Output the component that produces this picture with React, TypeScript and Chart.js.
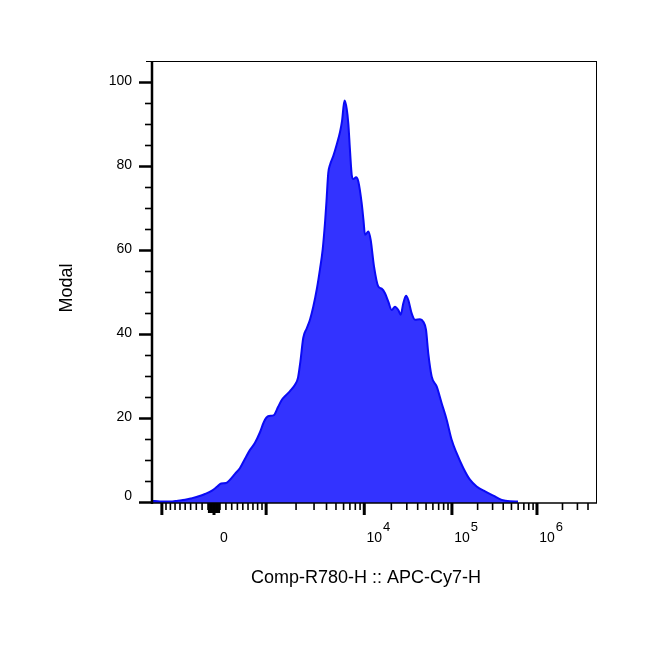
import { useEffect, useRef } from 'react'
import Chart from 'chart.js/auto'
import type { ChartConfiguration, Plugin } from 'chart.js'

// bin centres on the biexponential display scale (decades away from zero)
const BIN_POSITIONS = [
  -0.732, -0.638, -0.519, -0.425, -0.342, -0.26, -0.189, -0.106, -0.024, 0.035,
  0.083, 0.142, 0.189, 0.248, 0.307, 0.366, 0.425, 0.484, 0.543, 0.59,
  0.638, 0.708, 0.756, 0.803, 0.85, 0.897, 0.956, 0.992, 1.021, 1.054,
  1.094, 1.133, 1.172, 1.213, 1.251, 1.283, 1.311, 1.328, 1.349, 1.37,
  1.409, 1.449, 1.488, 1.511, 1.541, 1.567, 1.586, 1.606, 1.626, 1.645,
  1.677, 1.704, 1.744, 1.765, 1.783, 1.822, 1.85, 1.889, 1.94, 1.98,
  2.019, 2.058, 2.098, 2.137, 2.176, 2.204, 2.235, 2.267, 2.294, 2.334,
  2.373, 2.432, 2.471, 2.503, 2.53, 2.57, 2.629, 2.688, 2.747, 2.806,
  2.865, 2.943, 3.022, 3.101, 3.2, 3.298, 3.397, 3.495, 3.589,
]

// % of max per bin
const MODAL_VALUES = [
  0.2, 0, 0, 0.2, 0.4, 0.8, 1.2, 1.8, 2.6, 3.5,
  4.3, 4.4, 5.2, 6.6, 8, 10.2, 12.3, 14, 16.5, 19,
  20.3, 20.6, 22.5, 24.3, 25.3, 26.3, 27.8, 29.5, 33.5, 39,
  41.2, 43.3, 46.4, 50.5, 55.3, 60, 66.5, 71.5, 78.2, 80.2,
  82.3, 85, 88, 90.5, 95.5, 93.5, 90, 83.5, 77.8, 76.8,
  77.2, 76.2, 71, 67, 63.5, 64.3, 62.3, 56, 51.2, 50.7,
  49.6, 47.6, 45.6, 46.4, 45.6, 44.5, 47.2, 49, 48, 44.8,
  43.3, 43.4, 42.8, 40.9, 35.3, 29.8, 27.4, 23.4, 19.5, 14.7,
  11.5, 8, 5.2, 3.6, 2.4, 1.4, 0.4, 0.05, 0,
]

const Y_TICKS = [0, 5, 10, 15, 20, 25, 30, 35, 40, 45, 50, 55, 60, 65, 70, 75, 80, 85, 90, 95, 100]
const Y_LABELS = [0, 20, 40, 60, 80, 100]

const X_MAJOR_TICKS = [-1000, 0, 1000, 10000, 100000, 1000000]
const X_MINOR_BASES = [10, 100, 1000, 10000, 100000, 1000000]
const X_TICK_MAX = 4000000
const X_LABEL_VALUES = [0, 10000, 100000, 1000000]
const X_LABEL_BASES = ['0', '10', '10', '10']
const X_LABEL_EXPONENTS = ['', '4', '5', '6']

const X_TITLE = 'Comp-R780-H :: APC-Cy7-H'
const Y_TITLE = 'Modal'

const BIEX_C = 153.5
const BIEX_P = 3

const FONT = 'Arial, "Liberation Sans", sans-serif'

// logicle-style transform: data value -> display decades from zero
const biexDisplay = (v: number) => {
  const s = Math.abs(v)
  if (s === 0) return 0
  const p2 = BIEX_P * BIEX_P
  const f = (y: number) => BIEX_C * (Math.pow(10, y) - p2 * Math.pow(10, -y / BIEX_P) + p2 - 1)
  let lo = 0
  let hi = 8
  for (let i = 0; i < 60; i++) {
    const mid = (lo + hi) / 2
    if (f(mid) < s) lo = mid
    else hi = mid
  }
  return Math.sign(v) * (lo + hi) / 2
}

const minorTicks = () => {
  const out: number[] = []
  X_MINOR_BASES.forEach((b) => {
    for (let m = 1; m <= 9; m++) {
      const v = m * b
      if (v > X_TICK_MAX || X_MAJOR_TICKS.includes(v)) continue
      out.push(v)
      if (v < 1000) out.push(-v)
    }
  })
  return out
}

const axesPlugin: Plugin<'line'> = {
  id: 'flowAxes',
  afterDraw(chart) {
    const { ctx, chartArea } = chart
    const xs = chart.scales.x
    const ys = chart.scales.y
    const { left, right, top, bottom } = chartArea
    ctx.save()
    ctx.strokeStyle = '#000'
    ctx.fillStyle = '#000'

    // frame
    ctx.lineWidth = 1
    ctx.beginPath()
    ctx.moveTo(left - 6, top + 0.5)
    ctx.lineTo(right, top + 0.5)
    ctx.moveTo(right - 0.5, top)
    ctx.lineTo(right - 0.5, bottom)
    ctx.stroke()
    ctx.lineWidth = 1.5
    ctx.beginPath()
    ctx.moveTo(left, bottom)
    ctx.lineTo(right, bottom)
    ctx.stroke()
    ctx.lineWidth = 2.5
    ctx.beginPath()
    ctx.moveTo(left, top)
    ctx.lineTo(left, bottom + 1)
    ctx.stroke()

    // y ticks
    Y_TICKS.forEach((v) => {
      const py = Math.round(ys.getPixelForValue(v)) + 0.5
      const major = Y_LABELS.includes(v)
      ctx.lineWidth = major ? 2.5 : 1.6
      ctx.beginPath()
      ctx.moveTo(major ? left - 13 : left - 7, py)
      ctx.lineTo(left, py)
      ctx.stroke()
    })
    ctx.font = `14px ${FONT}`
    ctx.textAlign = 'right'
    ctx.textBaseline = 'middle'
    Y_LABELS.forEach((v) => {
      const py = ys.getPixelForValue(v)
      ctx.fillText(String(v), left - 20, v === 0 ? py - 5 : py)
    })

    // x ticks
    const drawXTick = (v: number, len: number, w: number) => {
      const px = xs.getPixelForValue(biexDisplay(v))
      if (px < left - 0.5 || px > right + 0.5) return
      ctx.lineWidth = w
      ctx.beginPath()
      ctx.moveTo(px, bottom)
      ctx.lineTo(px, bottom + len)
      ctx.stroke()
    }
    minorTicks().forEach((v) => {
      if (Math.abs(v) < 100) drawXTick(v, 10, 1.4)
      else drawXTick(v, 7, 1.6)
    })
    X_MAJOR_TICKS.forEach((v) => drawXTick(v, 12, 3))

    // x labels
    X_LABEL_VALUES.forEach((v, i) => {
      const px = xs.getPixelForValue(biexDisplay(v)) + 10
      ctx.font = `14px ${FONT}`
      ctx.textAlign = 'center'
      ctx.textBaseline = 'alphabetic'
      ctx.fillText(X_LABEL_BASES[i], px, 542)
      if (X_LABEL_EXPONENTS[i]) {
        const w = ctx.measureText(X_LABEL_BASES[i]).width
        ctx.font = `13px ${FONT}`
        ctx.textAlign = 'left'
        ctx.fillText(X_LABEL_EXPONENTS[i], px + w / 2 + 1, 531)
      }
    })

    // titles
    ctx.font = `18px ${FONT}`
    ctx.textAlign = 'center'
    ctx.textBaseline = 'middle'
    ctx.fillText(X_TITLE, 366, 578)
    ctx.translate(67, 288)
    ctx.rotate(-Math.PI / 2)
    ctx.fillText(Y_TITLE, 0, 0)
    ctx.restore()
  },
}

export default function App() {
  const canvasRef = useRef<HTMLCanvasElement>(null)
  const chartRef = useRef<Chart | null>(null)

  useEffect(() => {
    document.body.style.margin = '0'
    if (!canvasRef.current) return
    const ctx = canvasRef.current.getContext('2d')
    if (!ctx) return

    if (chartRef.current) {
      chartRef.current.destroy()
    }

    const config: ChartConfiguration<'line'> = {
      type: 'line',
      data: {
        datasets: [
          {
            label: Y_TITLE,
            data: BIN_POSITIONS.map((x, i) => ({ x, y: MODAL_VALUES[i] })),
            borderColor: '#0a0af5',
            backgroundColor: '#3333ff',
            borderWidth: 2,
            pointRadius: 0,
            fill: 'start',
            cubicInterpolationMode: 'monotone',
          },
        ],
      },
      options: {
        responsive: false,
        animation: false,
        layout: { padding: { left: 152, right: 61, top: 61, bottom: 147 } },
        plugins: {
          legend: { display: false },
          tooltip: { enabled: false },
        },
        scales: {
          x: { type: 'linear', min: -0.732, max: 4.522, display: false },
          y: { type: 'linear', min: -0.35, max: 104.9, display: false },
        },
      },
      plugins: [axesPlugin],
    }

    chartRef.current = new Chart(ctx, config)

    return () => {
      if (chartRef.current) {
        chartRef.current.destroy()
        chartRef.current = null
      }
    }
  }, [])

  return (
    <div style={{ width: 658, height: 650, background: '#fff' }}>
      <canvas ref={canvasRef} width={658} height={650} />
    </div>
  )
}
